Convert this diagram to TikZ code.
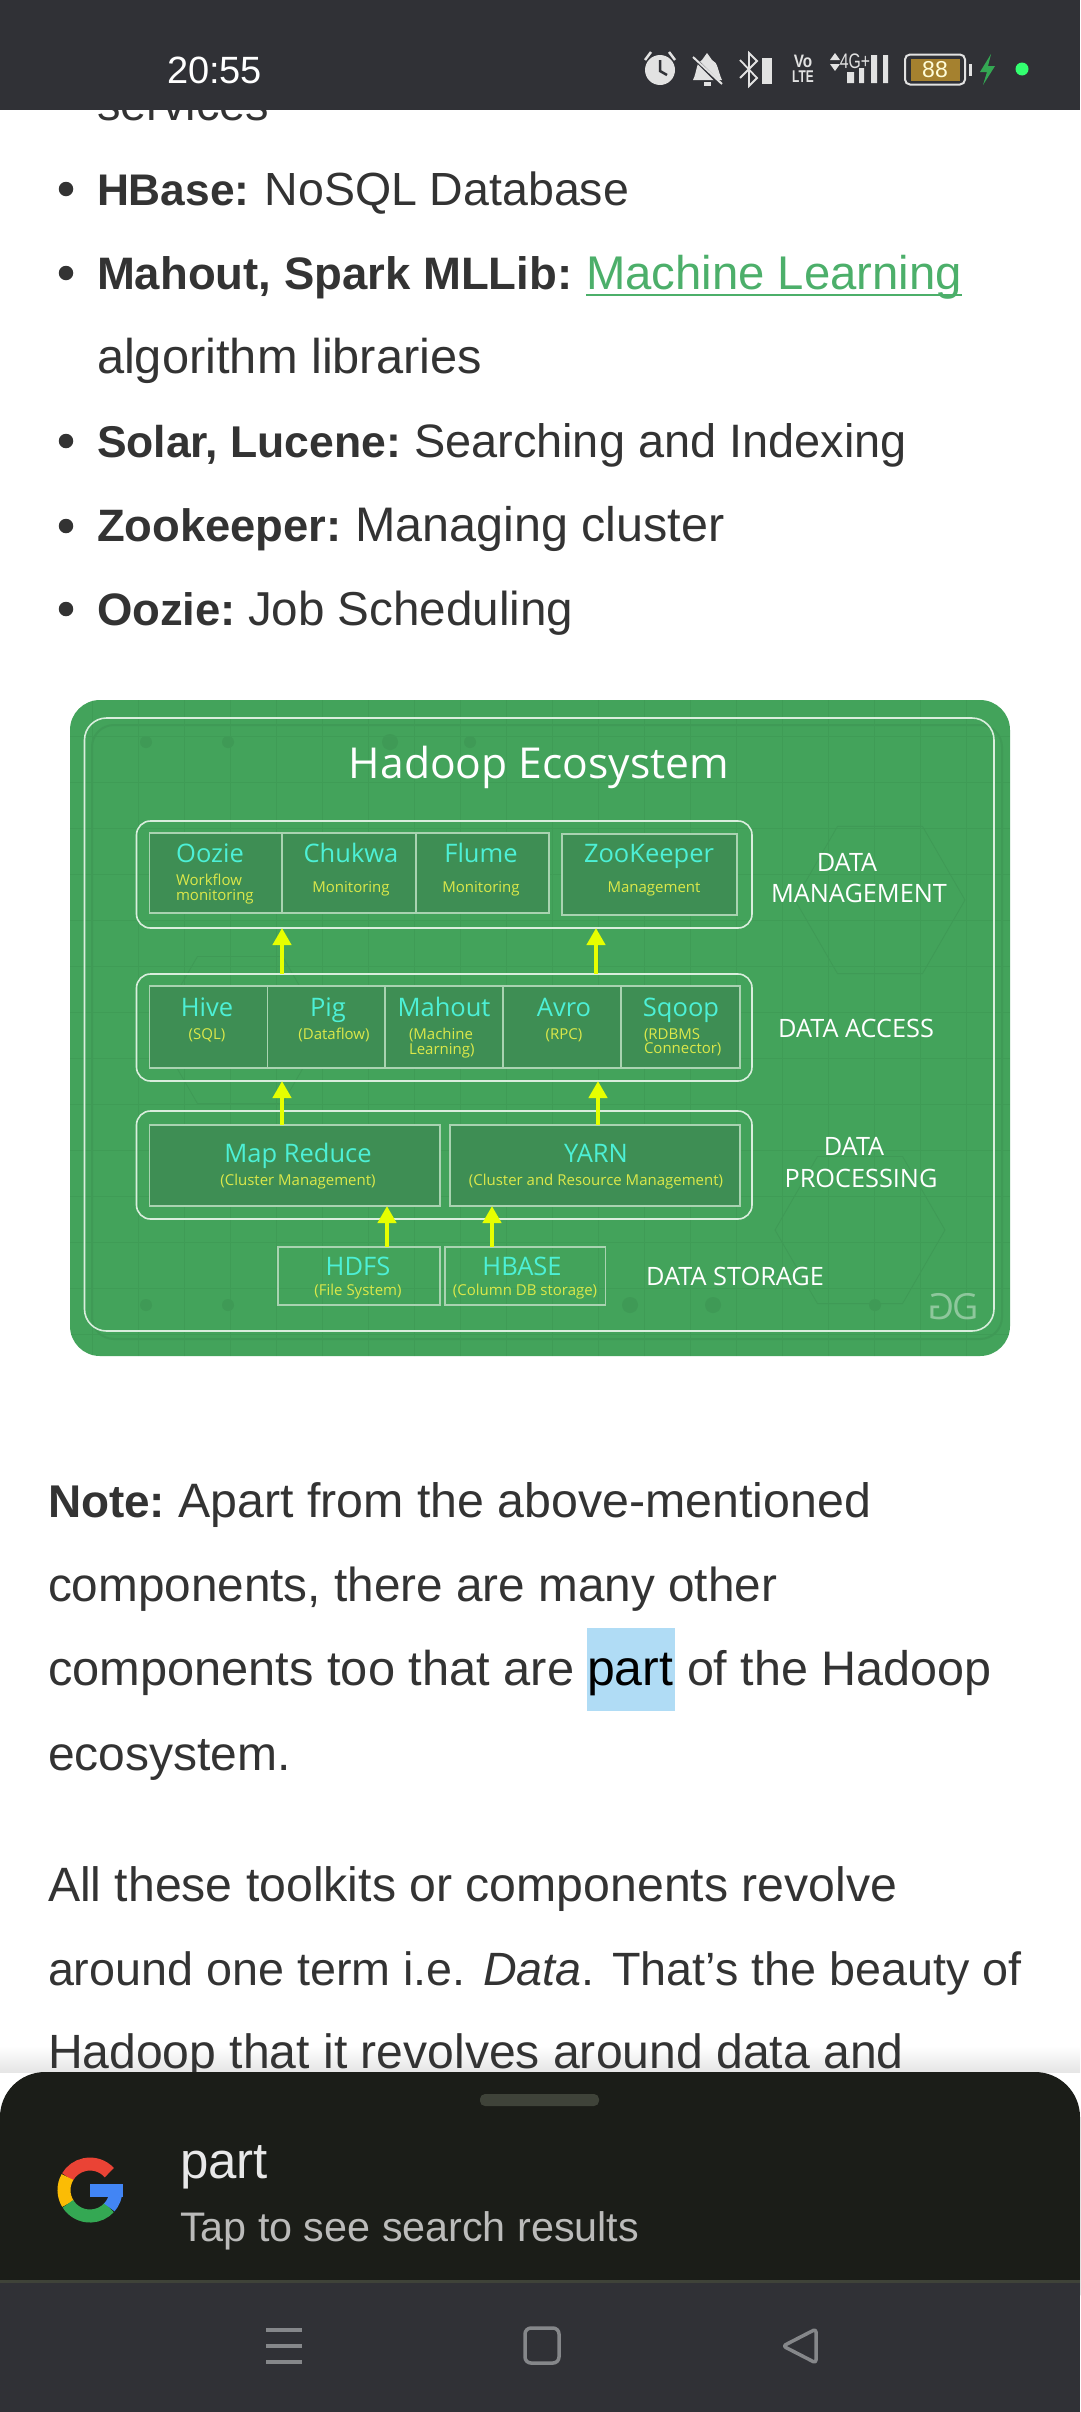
\documentclass[tikz,border=0pt]{standalone}
\usepackage{fontspec}
\setmainfont{Liberation Sans}
\newfontfamily\gfgfont{Open Sans}
\usetikzlibrary{positioning,calc,arrows.meta,shapes.geometric}
\definecolor{barclr}{HTML}{303136}
\definecolor{sheetclr}{HTML}{1B1D18}
\definecolor{sheetln}{HTML}{3F4339}
\definecolor{bodyclr}{HTML}{333333}
\definecolor{linkclr}{HTML}{4CAF6A}
\definecolor{markclr}{HTML}{B0DCF5}
\definecolor{panelclr}{HTML}{43A35B}
\definecolor{panelln}{HTML}{3F9C56}
\definecolor{paneldk}{HTML}{3F9A56}
\definecolor{cellclr}{HTML}{3E8E54}
\definecolor{cellln}{HTML}{A9D3B1}
\definecolor{frameclr}{HTML}{D9EEDD}
\definecolor{nameclr}{HTML}{4DF0D6}
\definecolor{subclr}{HTML}{DCE84A}
\definecolor{arrclr}{HTML}{E6FF00}
\definecolor{navclr}{HTML}{85878A}
\definecolor{iconclr}{HTML}{E2E2E2}
\definecolor{battclr}{HTML}{A5812F}
\definecolor{gred}{HTML}{EA4335}
\definecolor{gyel}{HTML}{FBBC05}
\definecolor{ggrn}{HTML}{34A853}
\definecolor{gblu}{HTML}{4285F4}
\newcommand{\fsz}[1]{\fontsize{#1}{#1}\selectfont}

\begin{document}
\begin{tikzpicture}[
  x=1pt, y=-1pt,
  every node/.style = {inner sep=0pt, outer sep=0pt},
  body/.style    = {anchor=base west, font=\fsz{48}, text=bodyclr},
  bold/.style    = {anchor=base west, font=\fsz{45}\bfseries, text=bodyclr},
  bullet/.style  = {circle, fill=bodyclr, minimum size=14.5},
  grp/.style     = {draw=frameclr, line width=1.6pt, rounded corners=14pt},
  cell/.style    = {draw=cellln, line width=1.2pt, fill=cellclr},
  pname/.style   = {anchor=base, font=\gfgfont\fsz{25.5}, text=nameclr},
  subtxt/.style  = {anchor=base, font=\gfgfont\fsz{15}, text=subclr},
  sublft/.style  = {anchor=base west, font=\gfgfont\fsz{15}, text=subclr},
  lane/.style    = {font=\gfgfont\fsz{25.3}, text=white, align=center},
  uparr/.style   = {-{Triangle[length=17pt,width=18pt]}, line width=4.5pt, draw=arrclr},
  navln/.style   = {draw=navclr, line width=3.5pt},
  icon/.style    = {fill=iconclr, draw=none},
]
\useasboundingbox (0,0) rectangle (1080,2412);

%% ==== page text above the picture =========================================
\node[body, font=\fsz{47}] (services) at (97,120) {services};
\node[bullet] (bu1) at (66,189) {};
\node[bold, font=\fsz{44.3}\bfseries] (hbasek) at (97,205) {HBase:};
\node[body, font=\fsz{46.5}] (hbase) at (264.6,205) {NoSQL Database};
\node[bullet] (bu2) at (66,273) {};
\node[bold, font=\fsz{45.5}\bfseries] (mahoutk) at (97,289) {Mahout, Spark MLLib:};
\node[body, font=\fsz{47.3}, text=linkclr] (mllink) at (586,289) {Machine Learning};
\draw[draw=linkclr, line width=2.4pt] ([yshift=-6pt]mllink.base west) -- ([yshift=-6pt]mllink.base east);
\node[body, font=\fsz{48.8}] (algo) at (97,373) {algorithm libraries};
\node[bullet] (bu3) at (66,441) {};
\node[bold, font=\fsz{44.5}\bfseries] (solark) at (97,457) {Solar, Lucene:};
\node[body, font=\fsz{46.9}] (solar) at (414,457) {Searching and Indexing};
\node[bullet] (bu4) at (66,526) {};
\node[bold, font=\fsz{45.4}\bfseries] (zookk) at (97,541) {Zookeeper:};
\node[body, font=\fsz{48.5}] (zook) at (355,541) {Managing cluster};
\node[bullet] (bu5) at (66,609) {};
\node[bold, font=\fsz{45.5}\bfseries] (oozlk) at (97,625) {Oozie:};
\node[body, font=\fsz{47.6}] (oozl) at (248,625) {Job Scheduling};

%% ==== panel and its faint background ======================================
\fill[panelclr, rounded corners=30pt] (70,700) rectangle (1010,1356);
\begin{scope}
  \clip[rounded corners=30pt] (70,700) rectangle (1010,1356);
  \draw[panelln, line width=0.8pt, step=46pt] (70,700) grid (1010,1356);
  \draw[paneldk, line width=2pt, rounded corners=22pt] (92,725) rectangle (1002,1339);
  \fill[paneldk] (146,742) circle (6) (228,742) circle (6) (390,742) circle (8) (470,742) circle (6);
  \fill[paneldk] (146,1305) circle (6) (228,1305) circle (6) (630,1305) circle (8) (713,1305) circle (8) (875,1305) circle (6);
  \node[regular polygon, regular polygon sides=6, draw=paneldk, line width=0.8pt, minimum size=170] (hexa) at (240,1030) {};
  \node[regular polygon, regular polygon sides=6, draw=paneldk, line width=0.8pt, minimum size=170] (hexb) at (880,900) {};
  \node[regular polygon, regular polygon sides=6, draw=paneldk, line width=0.8pt, minimum size=170] (hexc) at (860,1230) {};
\end{scope}
\node[draw=frameclr, line width=1.6pt, rounded corners=22pt, minimum width=909.5, minimum height=613] (frame) at (539.25,1024.5) {};
\node[anchor=base, font=\gfgfont\fsz{42.6}, text=white] (title) at (539,778) {Hadoop Ecosystem};

%% ==== data management =====================================================
\node[grp, minimum width=615.5, minimum height=107] (mgmt) at (444.25,874.5) {};
\node[cell, minimum width=132.6, minimum height=80] (oozie) at (215.7,873) {};
\node[cell, minimum width=134, minimum height=80] (chukwa) at (349,873) {};
\node[cell, minimum width=133, minimum height=80] (flume) at (482.5,873) {};
\node[cell, minimum width=175, minimum height=81] (zoo) at (649.5,874.5) {};
\node[pname] (oozien) at (210,862) {Oozie};
\node[sublft] (ooziesa) at (176,885) {Workflow};
\node[sublft] (ooziesb) at (176,900) {monitoring};
\node[pname] (chukwan) at (351,862) {Chukwa};
\node[subtxt] (chukwas) at (351,892) {Monitoring};
\node[pname] (flumen) at (481,862) {Flume};
\node[subtxt] (flumes) at (481,892) {Monitoring};
\node[pname] (zoon) at (649,862) {ZooKeeper};
\node[subtxt] (zoos) at (654,892) {Management};
\node[lane] (mgmta) at (847,862) {DATA};
\node[lane] (mgmtb) at (859,893) {MANAGEMENT};

%% ==== data access =========================================================
\node[grp, minimum width=615.5, minimum height=107] (access) at (444.25,1027.5) {};
\node[cell, minimum width=118.2, minimum height=82] (hive) at (208.5,1027) {};
\node[cell, minimum width=117.4, minimum height=82] (pig) at (326.3,1027) {};
\node[cell, minimum width=118, minimum height=82] (mahout) at (444,1027) {};
\node[cell, minimum width=118, minimum height=82] (avro) at (562,1027) {};
\node[cell, minimum width=119, minimum height=82] (sqoop) at (680.5,1027) {};
\node[pname] (hiven) at (207,1016) {Hive};
\node[subtxt] (hives) at (207,1039) {(SQL)};
\node[pname] (pign) at (328,1016) {Pig};
\node[subtxt] (pigs) at (334,1039) {(Dataflow)};
\node[pname] (mahoutn) at (444,1016) {Mahout};
\node[sublft] (mahoutsa) at (409,1039) {(Machine};
\node[sublft] (mahoutsb) at (409,1054) {Learning)};
\node[pname] (avron) at (564,1016) {Avro};
\node[subtxt] (avros) at (564,1039) {(RPC)};
\node[pname] (sqoopn) at (681,1016) {Sqoop};
\node[sublft] (sqoopsa) at (644,1039) {(RDBMS};
\node[sublft] (sqoopsb) at (644,1053) {Connector)};
\node[lane] (accessl) at (856,1028) {DATA ACCESS};

%% ==== data processing =====================================================
\node[grp, minimum width=615.5, minimum height=108] (proc) at (444.25,1165) {};
\node[cell, minimum width=290.6, minimum height=81] (mapred) at (294.7,1165.5) {};
\node[cell, minimum width=290, minimum height=81] (yarn) at (595,1165.5) {};
\node[pname] (mapredn) at (298,1162) {Map Reduce};
\node[subtxt] (mapreds) at (298,1185) {(Cluster Management)};
\node[pname] (yarnn) at (596,1162) {YARN};
\node[subtxt] (yarns) at (596,1185) {(Cluster and Resource Management)};
\node[lane] (proca) at (854,1146) {DATA};
\node[lane] (procb) at (861,1178) {PROCESSING};

%% ==== data storage ========================================================
\node[draw=cellln, line width=1.2pt, minimum width=162, minimum height=58] (hdfs) at (359,1276) {};
\node[draw=cellln, line width=1.2pt, minimum width=160.6, minimum height=58] (hbasebox) at (525.3,1276) {};
\node[pname] (hdfsn) at (358,1275) {HDFS};
\node[subtxt] (hdfss) at (358,1295) {(File System)};
\node[pname] (hbasen) at (522,1275) {HBASE};
\node[subtxt] (hbases) at (525,1295) {(Column DB storage)};
\node[lane] (storel) at (735,1276) {DATA STORAGE};
\node[font=\gfgfont\fsz{36}, text=white, opacity=0.4] (gfg) at (953,1307) {\reflectbox{G}\kern-2pt G};

%% ==== arrows between the layers ===========================================
\coordinate (upa) at (282,0);
\coordinate (upb) at (596,0);
\coordinate (upc) at (282,0);
\coordinate (upd) at (598,0);
\coordinate (upe) at (387,0);
\coordinate (upf) at (492,0);
\draw[uparr] (access.north-|upa) -- (mgmt.south-|upa);
\draw[uparr] (access.north-|upb) -- (mgmt.south-|upb);
\draw[uparr] (mapred.north-|upc) -- (access.south-|upc);
\draw[uparr] (yarn.north-|upd) -- (access.south-|upd);
\draw[uparr] (hdfs.north-|upe) -- (mapred.south-|upe);
\draw[uparr] (hbasebox.north-|upf) -- (yarn.south-|upf);

%% ==== page text below the picture =========================================
\node[bold, font=\fsz{45.9}\bfseries] (notek) at (48,1517) {Note:};
\node[body, font=\fsz{48.3}] (notea) at (178.5,1517) {Apart from the above-mentioned};
\node[body, font=\fsz{47.7}] (noteb) at (48,1601) {components, there are many other};
\node[fill=markclr, minimum width=88, minimum height=83] (partmark) at (631,1669.5) {};
\node[body, font=\fsz{48.8}] (notec) at (48,1685) {components too that are};
\node[body, font=\fsz{50}, text=black] (notepart) at (587,1685) {part};
\node[body, font=\fsz{48.5}] (noted) at (687,1685) {of the Hadoop};
\node[body] (notee) at (48,1770) {ecosystem.};
\node[body, font=\fsz{48.2}] (allb) at (48,1901) {All these toolkits or components revolve};
\node[body, font=\fsz{46.7}] (allc) at (48,1985) {around one term i.e. \textit{Data}. That's the beauty of};
\node[top color=white, bottom color=black!10, minimum width=1080, minimum height=26] (shadow) at (540,2059) {};
\node[body, font=\fsz{48.1}] (alld) at (48,2068) {Hadoop that it revolves around data and};

%% ==== search sheet ========================================================
\fill[sheetclr, rounded corners=45pt] (0,2072) rectangle (1080,2340);
\fill[barclr] (0,2280) rectangle (1080,2412);
\fill[sheetln] (0,2280) rectangle (1080,2283);
\fill[sheetln, rounded corners=5pt] (480,2094) rectangle (599,2106);
\begin{scope}[line width=13pt]
  \draw[draw=gred] (90,2190) ++(42:26pt) arc[start angle=42, end angle=150, radius=26pt];
  \draw[draw=gyel] (90,2190) ++(150:26pt) arc[start angle=150, end angle=212, radius=26pt];
  \draw[draw=ggrn] (90,2190) ++(212:26pt) arc[start angle=212, end angle=318, radius=26pt];
  \draw[draw=gblu] (90,2190) ++(318:26pt) arc[start angle=318, end angle=360, radius=26pt];
\end{scope}
\fill[gblu] (90,2184) rectangle (122.5,2197);
\node[anchor=base west, font=\fsz{51}, text=white!90!sheetclr] (query) at (180,2178) {part};
\node[anchor=base west, font=\fsz{41.3}, text=white!70!sheetclr] (hint) at (180,2241) {Tap to see search results};

%% ==== navigation bar ======================================================
\draw[navln] (266,2330) -- (302,2330);
\draw[navln] (266,2346) -- (302,2346);
\draw[navln] (266,2362) -- (302,2362);
\draw[navln, rounded corners=6pt] (525,2328) rectangle (559,2363);
\draw[navln, rounded corners=3pt, line join=round] (816,2329) -- (783,2346) -- (816,2363) -- cycle;

%% ==== status bar ==========================================================
\fill[barclr] (0,0) rectangle (1080,110);
\node[anchor=base west, font=\fsz{38}, text=white] (clock) at (167,83) {20:55};
\fill[icon] (660,70) circle (15);
\draw[barclr, line width=2.5pt] (660,60) -- (660,71) -- (667,75);
\draw[iconclr, line width=2.5pt] (645,60) -- (651,52) (675,60) -- (669,52);
\fill[icon] (707,53) -- (712,60) .. controls (718,62) and (718,72) .. (722,80) -- (693,80) .. controls (697,72) and (696,62) .. (702,60) -- cycle;
\draw[barclr, line width=3.5pt] (690,54) -- (722,86);
\draw[iconclr, line width=2pt] (693,57) -- (722,84);
\fill[icon] (704,82) rectangle (711,86);
\draw[iconclr, line width=1.8pt] (740,60) -- (757,78) -- (749,86) -- (749,53) -- (757,61) -- (740,78);
\fill[icon] (762,58) rectangle (772,84);
\node[font=\fsz{18}\bfseries, text=iconclr] (volte) at (803,61) {\scalebox{0.85}[1]{Vo}};
\node[font=\fsz{17}\bfseries, text=iconclr] (lte) at (803,77) {\scalebox{0.7}[1]{LTE}};
\node[font=\fsz{21}, text=iconclr] (fourg) at (855,61) {\scalebox{0.75}[1]{4G+}};
\fill[icon] (847,72) rectangle (854,83) (859,68) rectangle (864,83) (871,55) rectangle (877,83) (883,55) rectangle (888,83);
\fill[icon] (830,60) -- (840,60) -- (835,53) -- cycle (830,64) -- (840,64) -- (835,71) -- cycle;
\node[draw=iconclr, line width=2pt, rounded corners=5pt, minimum width=60, minimum height=30] (battery) at (935,69.5) {};
\node[fill=battclr, text=white!85!yellow, font=\fsz{23}, minimum width=49, minimum height=22] (battlvl) at (935,69.5) {88};
\fill[icon] (969,64) rectangle (972,76);
\fill[ggrn] (991,54) -- (980,72) -- (987,72) -- (983,85) -- (995,66) -- (988,66) -- cycle;
\fill[green!70!cyan!80!white] (1022,69) circle (6.5);
\end{tikzpicture}
\end{document}
